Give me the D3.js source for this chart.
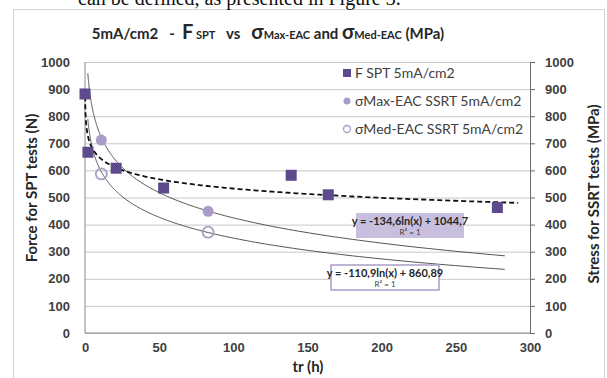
<!DOCTYPE html>
<html>
<head>
<meta charset="utf-8">
<script src="https://cdn.jsdelivr.net/npm/d3@7"></script>
<style>
    body { margin: 0; background: #fff; }
    svg { display: block; font-family: Lato, "Open Sans", sans-serif; }
    .grid line { stroke: #c8c8c8; stroke-width: 1; }
    .grid path { display: none; }
    .tick text { fill: #404040; font-weight: bold; font-size: 13px; }
    .axis_label { fill: #262626; font-weight: bold; font-size: 15px; }
</style>
</head>
<body>
<div id="chart"></div>
<script>
// ----------------------------------------------------------------------------
// Data
// ----------------------------------------------------------------------------
var xTicks = [0, 50, 100, 150, 200, 250, 300];
var yTicks = [0, 100, 200, 300, 400, 500, 600, 700, 800, 900, 1000];

// F SPT 5mA/cm2 (left axis, N)
var fsptX = [0, 2, 21, 53, 139, 164, 278];
var fsptY = [882, 667, 608, 535, 582, 510, 463];

// sigma Max-EAC SSRT 5mA/cm2 (right axis, MPa)
var maxX = [11, 83];
var maxY = [712, 449];

// sigma Med-EAC SSRT 5mA/cm2 (right axis, MPa)
var medX = [11, 83];
var medY = [587, 372];

// trendlines  y = a ln(x) + b
var trendMax = {a: -134.6, b: 1044.7, from: 1.9, to: 283};
var trendMed = {a: -110.9, b: 860.89, from: 1.9, to: 283};
var trendSpt = {a: -49.3, b: 760, from: 0.1, to: 292};

var legendLabels = ["F SPT 5mA/cm2", "\u03c3Max-EAC SSRT 5mA/cm2", "\u03c3Med-EAC SSRT 5mA/cm2"];

// ----------------------------------------------------------------------------
// Layout
// ----------------------------------------------------------------------------
var W = 607, H = 378;
var plot = {left: 85, right: 530, top: 62, bottom: 333};
var PURPLE = "#5d4a8c";
var LILAC = "#a99cc9";

var svg = d3.select("#chart").append("svg")
    .attr("width", W)
    .attr("height", H);

// chart frame
svg.append("rect")
    .attr("x", 13.5).attr("y", 9.5)
    .attr("width", 591).attr("height", 380)
    .attr("fill", "#fff")
    .attr("stroke", "#d4d4d4");

// cut-off line of the page text above the chart
svg.append("text")
    .attr("x", 78).attr("y", 5)
    .style("font-family", "'Liberation Serif', serif")
    .style("font-size", "20px")
    .attr("fill", "#111")
    .text("can be defined, as presented in Figure 3.");

var x = d3.scaleLinear().domain([0, 300]).range([plot.left, plot.right]);
var yl = d3.scaleLinear().domain([0, 1000]).range([plot.bottom, plot.top]);
var yr = d3.scaleLinear().domain([0, 1000]).range([plot.bottom, plot.top]);
var fmt = d3.format("d");

// Grid
//_______________
svg.append("g")
    .attr("class", "grid")
    .attr("transform", "translate(" + plot.left + ",0)")
    .call(d3.axisLeft(yl).tickValues(yTicks).tickSize(-(plot.right - plot.left)).tickFormat(""));

// Axes
//_______________
svg.append("line")
    .attr("x1", plot.left).attr("x2", plot.left)
    .attr("y1", plot.top).attr("y2", plot.bottom)
    .attr("stroke", "#8a8a8a");
svg.append("line")
    .attr("x1", plot.left).attr("x2", plot.right)
    .attr("y1", plot.bottom).attr("y2", plot.bottom)
    .attr("stroke", "#8a8a8a");

var gl = svg.append("g")
    .attr("transform", "translate(" + (plot.left - 12) + ",0)")
    .call(d3.axisLeft(yl).tickValues(yTicks).tickSize(0).tickFormat(fmt));
gl.select(".domain").remove();

var gr = svg.append("g")
    .attr("transform", "translate(" + plot.right + ",0)")
    .call(d3.axisRight(yr).tickValues(yTicks).tickSize(5).tickPadding(10).tickFormat(fmt));
gr.select(".domain").attr("stroke", "#6a6a6a");
gr.selectAll(".tick line").attr("stroke", "#6a6a6a");
gr.selectAll(".tick text").attr("text-anchor", "start");

var gb = svg.append("g")
    .attr("transform", "translate(0," + plot.bottom + ")")
    .call(d3.axisBottom(x).tickValues(xTicks).tickSize(0).tickPadding(10).tickFormat(fmt));
gb.select(".domain").remove();

// Axis labels
svg.append("text")
    .attr("class", "axis_label")
    .attr("transform", "translate(37," + 188 + ") rotate(-90)")
    .attr("text-anchor", "middle")
    .text("Force for SPT tests (N)");

svg.append("text")
    .attr("class", "axis_label")
    .attr("transform", "translate(599," + 194 + ") rotate(-90)")
    .attr("text-anchor", "middle")
    .text("Stress for SSRT tests (MPa)");

svg.append("text")
    .attr("class", "axis_label")
    .attr("x", 308).attr("y", 372)
    .attr("text-anchor", "middle")
    .text("tr (h)");

// Title
//_______________
var title = svg.append("text")
    .attr("x", 268).attr("y", 39)
    .attr("text-anchor", "middle")
    .attr("fill", "#262626")
    .style("font-weight", "bold")
    .style("font-size", "15px");
title.append("tspan").text("5mA/cm2\u00a0\u00a0\u00a0-\u00a0\u00a0");
title.append("tspan").style("font-size", "20px").text("F");
title.append("tspan").style("font-size", "11px").text(" SPT");
title.append("tspan").text("\u00a0\u00a0\u00a0vs\u00a0\u00a0\u00a0");
title.append("tspan").style("font-size", "20px").text("\u03c3");
title.append("tspan").style("font-size", "11px").text("Max-EAC");
title.append("tspan").text(" and ");
title.append("tspan").style("font-size", "20px").text("\u03c3");
title.append("tspan").style("font-size", "11px").text("Med-EAC");
title.append("tspan").text(" (MPa)");

// Trendlines
//_______________
function trendPoints(t, n) {
    // sample along a log axis so the steep start stays smooth
    var lx = d3.scaleLog().domain([t.from, t.to]);
    return d3.range(n + 1).map(function(i) {
        var xv = lx.invert(i / n);
        return [xv, t.a * Math.log(xv) + t.b];
    });
}

var lineR = d3.line()
    .x(function(d) { return x(d[0]); })
    .y(function(d) { return yr(d[1]); })
    .curve(d3.curveMonotoneX);
var lineL = d3.line()
    .x(function(d) { return x(d[0]); })
    .y(function(d) { return yl(d[1]); })
    .curve(d3.curveMonotoneX);

[trendMax, trendMed].forEach(function(t) {
    svg.append("path")
        .datum(trendPoints(t, 200))
        .attr("fill", "none")
        .attr("stroke", "#555")
        .attr("stroke-width", 1)
        .attr("d", lineR);
});

svg.append("path")
    .datum(trendPoints(trendSpt, 200))
    .attr("fill", "none")
    .attr("stroke", "#111")
    .attr("stroke-width", 1.8)
    .attr("stroke-dasharray", "5,3")
    .attr("d", lineL);

// Points
//_______________
var sq = 11;
svg.append("g").selectAll("rect")
    .data(d3.zip(fsptX, fsptY))
    .join("rect")
    .attr("x", function(d) { return x(d[0]) - sq / 2; })
    .attr("y", function(d) { return yl(d[1]) - sq / 2; })
    .attr("width", sq).attr("height", sq)
    .attr("fill", PURPLE);

svg.append("g").selectAll("circle")
    .data(d3.zip(maxX, maxY))
    .join("circle")
    .attr("cx", function(d) { return x(d[0]); })
    .attr("cy", function(d) { return yr(d[1]); })
    .attr("r", 5.5)
    .attr("fill", LILAC);

svg.append("g").selectAll("circle")
    .data(d3.zip(medX, medY))
    .join("circle")
    .attr("cx", function(d) { return x(d[0]); })
    .attr("cy", function(d) { return yr(d[1]); })
    .attr("r", 5.5)
    .attr("fill", "none")
    .attr("stroke", LILAC)
    .attr("stroke-width", 1.8);

// Trendline equations
//_______________
function eqBox(bx, by, fill, stroke, t) {
    var g = svg.append("g");
    g.append("rect")
        .attr("x", bx).attr("y", by)
        .attr("width", 108).attr("height", 25)
        .attr("fill", fill)
        .attr("stroke", stroke)
        .attr("stroke-width", stroke == "none" ? 0 : 1.5);
    g.append("text")
        .attr("x", bx + 54).attr("y", by + 12)
        .attr("text-anchor", "middle")
        .attr("fill", "#262626")
        .style("font-weight", "bold")
        .style("font-size", "11px")
        .text("y = " + String(t.a).replace(".", ",") + "ln(x) + " + String(t.b).replace(".", ","));
    g.append("text")
        .attr("x", bx + 54).attr("y", by + 22)
        .attr("text-anchor", "middle")
        .attr("fill", "#404040")
        .style("font-size", "8px")
        .text("R\u00b2 = 1");
}
eqBox(356, 213, "#c7bfdd", "none", trendMax);
eqBox(331, 265, "#fff", "#a99cc9", trendMed);

// Legend
//_______________
var leg = svg.append("g").attr("transform", "translate(347,0)");
var legY = [73, 101, 129];
leg.append("rect").attr("x", -4).attr("y", legY[0] - 4).attr("width", 8).attr("height", 8).attr("fill", PURPLE);
leg.append("circle").attr("cx", 0).attr("cy", legY[1]).attr("r", 3.5).attr("fill", LILAC);
leg.append("circle").attr("cx", 0).attr("cy", legY[2]).attr("r", 3.5).attr("fill", "none").attr("stroke", LILAC).attr("stroke-width", 1.3);
leg.selectAll("text.lg")
    .data(legendLabels)
    .join("text")
    .attr("class", "lg")
    .attr("x", 8)
    .attr("y", function(d, i) { return legY[i] + 5; })
    .attr("fill", "#404040")
    .style("font-size", "14px")
    .text(function(d) { return d; });
</script>
</body>
</html>
